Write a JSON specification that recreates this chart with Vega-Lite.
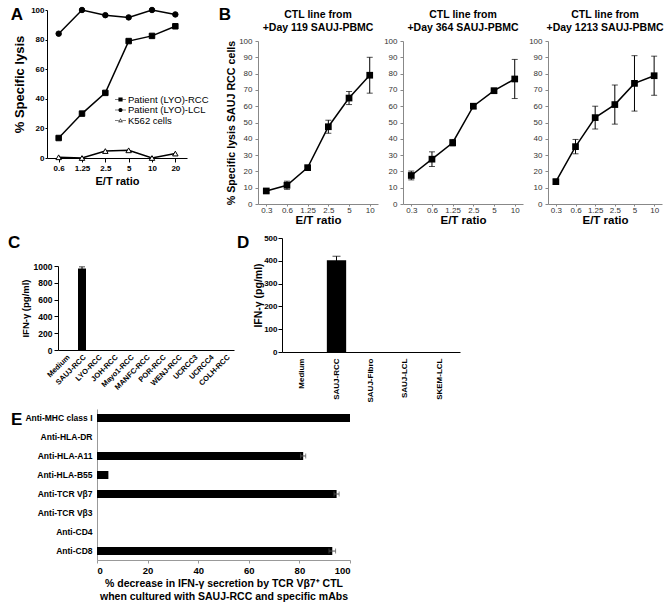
{
  "$schema": "https://vega.github.io/schema/vega-lite/v6.json",
  "padding": {"left": 0, "top": 4, "right": 2, "bottom": 2},
  "config": {
    "font": "Liberation Sans",
    "view": {"stroke": null},
    "axis": {"grid": false, "domainColor": "black", "tickColor": "black", "labelColor": "black", "titleColor": "black", "labelFontWeight": "bold", "titleFontWeight": "bold", "labelFont": "Liberation Sans", "titleFont": "Liberation Sans"},
    "title": {"font": "Liberation Sans", "fontWeight": "bold", "color": "black"},
    "legend": {"labelFont": "Liberation Sans"}
  },
  "datasets": {
    "a": [
      {"series": "Patient (LYO)-RCC", "et": "0.6", "v": 13.5},
      {"series": "Patient (LYO)-RCC", "et": "1.25", "v": 30},
      {"series": "Patient (LYO)-RCC", "et": "2.5", "v": 44},
      {"series": "Patient (LYO)-RCC", "et": "5", "v": 79},
      {"series": "Patient (LYO)-RCC", "et": "10", "v": 82.5},
      {"series": "Patient (LYO)-RCC", "et": "20", "v": 89},
      {"series": "Patient (LYO)-LCL", "et": "0.6", "v": 84},
      {"series": "Patient (LYO)-LCL", "et": "1.25", "v": 100},
      {"series": "Patient (LYO)-LCL", "et": "2.5", "v": 96.5},
      {"series": "Patient (LYO)-LCL", "et": "5", "v": 95},
      {"series": "Patient (LYO)-LCL", "et": "10", "v": 100},
      {"series": "Patient (LYO)-LCL", "et": "20", "v": 97},
      {"series": "K562 cells", "et": "0.6", "v": 0.5},
      {"series": "K562 cells", "et": "1.25", "v": 0},
      {"series": "K562 cells", "et": "2.5", "v": 4.7},
      {"series": "K562 cells", "et": "5", "v": 5.2},
      {"series": "K562 cells", "et": "10", "v": 0},
      {"series": "K562 cells", "et": "20", "v": 3}
    ],
    "b1": [
      {"et": "0.3", "v": 8, "e": 1.2},
      {"et": "0.6", "v": 11.5, "e": 2.5},
      {"et": "1.25", "v": 22.3, "e": 1},
      {"et": "2.5", "v": 47.4, "e": 4},
      {"et": "5", "v": 65, "e": 4},
      {"et": "10", "v": 79, "e": 11}
    ],
    "b2": [
      {"et": "0.3", "v": 17.5, "e": 2.7},
      {"et": "0.6", "v": 27.5, "e": 4.5},
      {"et": "1.25", "v": 37.6, "e": 2},
      {"et": "2.5", "v": 60, "e": 1.5},
      {"et": "5", "v": 69.5, "e": 1.5},
      {"et": "10", "v": 76.7, "e": 12}
    ],
    "b3": [
      {"et": "0.3", "v": 13.7, "e": 1.5},
      {"et": "0.6", "v": 35.2, "e": 4.4},
      {"et": "1.25", "v": 53, "e": 7},
      {"et": "2.5", "v": 61, "e": 12},
      {"et": "5", "v": 74, "e": 17},
      {"et": "10", "v": 78.7, "e": 12}
    ],
    "c": [
      {"cell": "Medium", "v": 0, "e": 0},
      {"cell": "SAUJ-RCC", "v": 970, "e": 20},
      {"cell": "LYO-RCC", "v": 0, "e": 0},
      {"cell": "JOH-RCC", "v": 0, "e": 0},
      {"cell": "Mayo1-RCC", "v": 0, "e": 0},
      {"cell": "MANFC-RCC", "v": 0, "e": 0},
      {"cell": "POR-RCC", "v": 0, "e": 0},
      {"cell": "WENJ-RCC", "v": 0, "e": 0},
      {"cell": "UCRCC3", "v": 0, "e": 0},
      {"cell": "UCRCC4", "v": 0, "e": 0},
      {"cell": "COLH-RCC", "v": 0, "e": 0}
    ],
    "d": [
      {"cell": "Medium", "v": 0, "e": 0},
      {"cell": "SAUJ-RCC", "v": 402, "e": 18},
      {"cell": "SAUJ-Fibro", "v": 0, "e": 0},
      {"cell": "SAUJ-LCL", "v": 0, "e": 0},
      {"cell": "SKEM-LCL", "v": 0, "e": 0}
    ],
    "e": [
      {"ab": "Anti-MHC class I", "v": 100, "e": 0},
      {"ab": "Anti-HLA-DR", "v": 0, "e": 0},
      {"ab": "Anti-HLA-A11", "v": 81.5, "e": 1},
      {"ab": "Anti-HLA-B55", "v": 4.5, "e": 0},
      {"ab": "Anti-TCR Vβ7", "v": 94.7, "e": 1},
      {"ab": "Anti-TCR Vβ3", "v": 0, "e": 0},
      {"ab": "Anti-CD4", "v": 0, "e": 0},
      {"ab": "Anti-CD8", "v": 93, "e": 1.3}
    ],
    "none": []
  },
  "columns": 1,
  "align": "none",
  "spacing": 7,
  "concat": [
    {
      "columns": 3,
      "align": "none",
      "spacing": {"row": 0, "column": 9},
      "concat": [
        {"width": 1, "height": 1, "data": {"name": "none"}, "mark": "point"},
        {"width": 1, "height": 1, "data": {"name": "none"}, "mark": "point"},
        {"width": 1, "height": 1, "data": {"name": "none"}, "mark": "point"},
        {"width": 1, "height": 1, "data": {"name": "none"}, "mark": "point"},
        {
          "width": 140, "height": 148,
          "title": {"text": "A", "anchor": "start", "frame": "bounds", "fontSize": 17, "dx": -3, "dy": 19, "offset": 0},
          "data": {"name": "a"},
          "encoding": {
            "x": {"field": "et", "type": "ordinal", "sort": ["0.6", "1.25", "2.5", "5", "10", "20"], "scale": {"type": "point", "padding": 0.5},
                  "axis": {"title": "E/T ratio", "labelAngle": 0, "labelFontSize": 8, "titleFontSize": 11, "titlePadding": 3, "tickSize": 4, "labelPadding": 2}},
            "y": {"field": "v", "type": "quantitative", "scale": {"domain": [0, 100]},
                  "axis": {"title": "% Specific lysis", "values": [0, 20, 40, 60, 80, 100], "labelFontSize": 8, "titleFontSize": 13, "titlePadding": 4, "tickSize": 2, "labelPadding": 1}}
          },
          "layer": [
            {"mark": {"type": "line", "color": "black", "strokeWidth": 1.5}, "encoding": {"detail": {"field": "series"}}},
            {"mark": {"type": "point", "stroke": "black", "strokeWidth": 1, "opacity": 1, "fillOpacity": 1, "size": 30},
             "encoding": {
               "shape": {"field": "series", "type": "nominal", "scale": {"domain": ["Patient (LYO)-RCC", "Patient (LYO)-LCL", "K562 cells"], "range": ["square", "circle", "triangle-up"]}, "legend": null},
               "fill": {"field": "series", "type": "nominal", "scale": {"domain": ["Patient (LYO)-RCC", "Patient (LYO)-LCL", "K562 cells"], "range": ["black", "black", "white"]}, "legend": null}
             }},
            {"transform": [{"filter": "false"}],
             "mark": {"type": "point", "filled": true, "color": "black", "strokeWidth": 0, "opacity": 1, "size": 121},
             "encoding": {
               "shape": {"field": "series", "type": "nominal", "title": "legend",
                         "scale": {"domain": ["Patient (LYO)-RCC", "Patient (LYO)-LCL", "K562 cells"],
                                   "range": ["M-1,-0.06H1V0.06H-1Z M-0.38,-0.38H0.38V0.38H-0.38Z", "M-1,-0.06H1V0.06H-1Z M0.38,0A0.38,0.38 0 1,1 -0.38,0A0.38,0.38 0 1,1 0.38,0Z", "M-1,-0.06H-0.3V0.06H-1Z M0.3,-0.06H1V0.06H0.3Z M0,-0.42L0.42,0.32H-0.42Z M0,-0.22L-0.24,0.2H0.24Z"]},
                         "legend": {"title": null, "orient": "none", "legendX": 68, "legendY": 84, "padding": 0, "labelFontSize": 9.5, "labelFontWeight": "normal", "labelColor": "black", "labelOffset": 2, "rowPadding": 0.5, "symbolSize": 121, "symbolFillColor": "black", "symbolStrokeWidth": 0}}
             }}
          ],
          "resolve": {"scale": {"shape": "independent"}}
        },
        {
          "title": {"text": "B", "anchor": "start", "frame": "bounds", "fontSize": 17, "dx": -7, "dy": 14, "offset": 0},
          "spacing": 5,
          "hconcat": [
            {
              "width": 120, "height": 163,
              "title": {"text": ["CTL line from", "+Day 119 SAUJ-PBMC"], "fontSize": 10.5, "anchor": "middle", "offset": 4, "lineHeight": 13},
              "data": {"name": "b1"},
              "encoding": {
                "x": {"field": "et", "type": "ordinal", "sort": ["0.3", "0.6", "1.25", "2.5", "5", "10"], "scale": {"type": "point", "padding": 0.4},
                      "axis": {"title": "E/T ratio", "labelAngle": 0, "labelFontSize": 8, "labelFontWeight": "normal", "labelColor": "#333", "domainColor": "#888", "tickColor": "#888", "tickSize": 2, "labelPadding": 0, "titleFontSize": 11.5, "titlePadding": 0}},
                "y": {"field": "v", "type": "quantitative", "scale": {"domain": [0, 100]},
                      "axis": {"title": "% Specific lysis SAUJ RCC cells", "values": [0, 10, 20, 30, 40, 50, 60, 70, 80, 90, 100], "labelFontSize": 8, "labelFontWeight": "normal", "labelColor": "#333", "domainColor": "#888", "tickColor": "#888", "tickSize": 3, "labelPadding": 3, "titleFontSize": 10.7, "titlePadding": 2}}
              },
              "layer": [
                {"mark": {"type": "errorbar", "color": "black", "ticks": {"size": 6}}, "encoding": {"yError": {"field": "e"}}},
                {"mark": {"type": "line", "color": "black", "strokeWidth": 1.5}},
                {"mark": {"type": "point", "shape": "square", "filled": true, "color": "black", "opacity": 1, "size": 45}}
              ]
            },
            {
              "width": 120, "height": 163,
              "title": {"text": ["CTL line from", "+Day 364 SAUJ-PBMC"], "fontSize": 10.5, "anchor": "middle", "offset": 4, "lineHeight": 13},
              "data": {"name": "b2"},
              "encoding": {
                "x": {"field": "et", "type": "ordinal", "sort": ["0.3", "0.6", "1.25", "2.5", "5", "10"], "scale": {"type": "point", "padding": 0.4},
                      "axis": {"title": "E/T ratio", "labelAngle": 0, "labelFontSize": 8, "labelFontWeight": "normal", "labelColor": "#333", "domainColor": "#888", "tickColor": "#888", "tickSize": 2, "labelPadding": 0, "titleFontSize": 11.5, "titlePadding": 0}},
                "y": {"field": "v", "type": "quantitative", "scale": {"domain": [0, 100]},
                      "axis": {"title": null, "values": [0, 10, 20, 30, 40, 50, 60, 70, 80, 90, 100], "labelFontSize": 8, "labelFontWeight": "normal", "labelColor": "#333", "domainColor": "#888", "tickColor": "#888", "tickSize": 3, "labelPadding": 3}}
              },
              "layer": [
                {"mark": {"type": "errorbar", "color": "black", "ticks": {"size": 6}}, "encoding": {"yError": {"field": "e"}}},
                {"mark": {"type": "line", "color": "black", "strokeWidth": 1.5}},
                {"mark": {"type": "point", "shape": "square", "filled": true, "color": "black", "opacity": 1, "size": 45}}
              ]
            },
            {
              "width": 114, "height": 163,
              "title": {"text": ["CTL line from", "+Day 1213 SAUJ-PBMC"], "fontSize": 10.5, "anchor": "middle", "offset": 4, "lineHeight": 13},
              "data": {"name": "b3"},
              "encoding": {
                "x": {"field": "et", "type": "ordinal", "sort": ["0.3", "0.6", "1.25", "2.5", "5", "10"], "scale": {"type": "point", "padding": 0.4},
                      "axis": {"title": "E/T ratio", "labelAngle": 0, "labelFontSize": 8, "labelFontWeight": "normal", "labelColor": "#333", "domainColor": "#888", "tickColor": "#888", "tickSize": 2, "labelPadding": 0, "titleFontSize": 11.5, "titlePadding": 0}},
                "y": {"field": "v", "type": "quantitative", "scale": {"domain": [0, 100]},
                      "axis": {"title": null, "values": [0, 10, 20, 30, 40, 50, 60, 70, 80, 90, 100], "labelFontSize": 8, "labelFontWeight": "normal", "labelColor": "#333", "domainColor": "#888", "tickColor": "#888", "tickSize": 3, "labelPadding": 3}}
              },
              "layer": [
                {"mark": {"type": "errorbar", "color": "black", "ticks": {"size": 6}}, "encoding": {"yError": {"field": "e"}}},
                {"mark": {"type": "line", "color": "black", "strokeWidth": 1.5}},
                {"mark": {"type": "point", "shape": "square", "filled": true, "color": "black", "opacity": 1, "size": 45}}
              ]
            }
          ]
        }
      ]
    },
    {
      "columns": 1,
      "align": "none",
      "spacing": 6,
      "concat": [
        {
          "columns": 4,
          "align": "none",
          "spacing": {"row": 0, "column": 3},
          "concat": [
            {"width": 1, "height": 1, "data": {"name": "none"}, "mark": "point"},
            {"width": 1, "height": 1, "data": {"name": "none"}, "mark": "point"},
            {"width": 1, "height": 1, "data": {"name": "none"}, "mark": "point"},
            {"width": 1, "height": 1, "data": {"name": "none"}, "mark": "point"},
            {"width": 5, "height": 1, "data": {"name": "none"}, "mark": "point"},
            {
              "width": 176, "height": 84,
              "title": {"text": "C", "anchor": "start", "frame": "bounds", "fontSize": 17, "dx": -12, "offset": 10},
              "data": {"name": "c"},
              "encoding": {
                "x": {"field": "cell", "type": "nominal", "sort": ["Medium", "SAUJ-RCC", "LYO-RCC", "JOH-RCC", "Mayo1-RCC", "MANFC-RCC", "POR-RCC", "WENJ-RCC", "UCRCC3", "UCRCC4", "COLH-RCC"],
                      "scale": {"paddingInner": 0.5, "paddingOuter": 0.25},
                      "axis": {"title": null, "labelAngle": -45, "labelFontSize": 7.5, "ticks": false, "labelPadding": 3}},
                "y": {"field": "v", "type": "quantitative", "scale": {"domain": [0, 1000]},
                      "axis": {"title": "IFN-γ (pg/ml)", "format": "d", "values": [0, 200, 400, 600, 800, 1000], "labelFontSize": 8.5, "titleFontSize": 9.5, "titlePadding": 3, "tickSize": 4}}
              },
              "layer": [
                {"mark": {"type": "bar", "color": "black"}},
                {"transform": [{"filter": "datum.e > 0"}], "mark": {"type": "errorbar", "color": "black", "ticks": {"size": 6}}, "encoding": {"yError": {"field": "e"}}}
              ]
            },
            {
              "width": 1, "height": 1,
              "title": {"text": "D", "anchor": "start", "fontSize": 17, "dx": 0, "offset": 0},
              "data": {"name": "none"}, "mark": "point"
            },
            {
              "width": 178, "height": 114,
              "data": {"name": "d"},
              "encoding": {
                "x": {"field": "cell", "type": "nominal", "sort": ["Medium", "SAUJ-RCC", "SAUJ-Fibro", "SAUJ-LCL", "SKEM-LCL"],
                      "scale": {"paddingInner": 0.44, "paddingOuter": 0.3},
                      "axis": {"title": null, "labelAngle": -90, "labelFontSize": 8, "ticks": false, "labelPadding": 6}},
                "y": {"field": "v", "type": "quantitative", "scale": {"domain": [0, 500]},
                      "axis": {"title": "IFN-γ (pg/ml)", "values": [0, 100, 200, 300, 400, 500], "labelFontSize": 8, "titleFontSize": 10.5, "titlePadding": 0, "tickSize": 4, "labelPadding": 1}}
              },
              "layer": [
                {"mark": {"type": "bar", "color": "black"}},
                {"transform": [{"filter": "datum.e > 0"}], "mark": {"type": "errorbar", "color": "black", "ticks": {"size": 8}}, "encoding": {"yError": {"field": "e"}}}
              ]
            }
          ]
        },
        {
          "columns": 2,
          "align": "none",
          "spacing": {"row": 0, "column": 9},
          "concat": [
            {"width": 1, "height": 1, "data": {"name": "none"}, "mark": "point"},
            {"width": 1, "height": 1, "data": {"name": "none"}, "mark": "point"},
            {"width": 1, "height": 1, "data": {"name": "none"}, "mark": "point"},
            {
              "width": 253, "height": 151,
              "title": {"text": "E", "anchor": "start", "frame": "bounds", "fontSize": 17, "dx": -14, "dy": 20, "offset": 0},
              "data": {"name": "e"},
              "encoding": {
                "y": {"field": "ab", "type": "nominal", "sort": ["Anti-MHC class I", "Anti-HLA-DR", "Anti-HLA-A11", "Anti-HLA-B55", "Anti-TCR Vβ7", "Anti-TCR Vβ3", "Anti-CD4", "Anti-CD8"],
                      "scale": {"paddingInner": 0.58, "paddingOuter": 0.26},
                      "axis": {"title": null, "labelFontSize": 8.5, "ticks": false, "labelPadding": 5, "domainColor": "#999"}},
                "x": {"field": "v", "type": "quantitative", "scale": {"domain": [0, 100]},
                      "axis": {"title": ["% decrease in IFN-γ secretion by TCR Vβ7⁺ CTL", "when cultured with SAUJ-RCC and specific mAbs"], "values": [0, 20, 40, 60, 80, 100], "labelFontSize": 9.5, "titleFontSize": 10.5, "titlePadding": 4, "tickSize": 3, "domainColor": "#999", "tickColor": "#999"}}
              },
              "layer": [
                {"mark": {"type": "bar", "color": "black"}},
                {"transform": [{"filter": "datum.e > 0"}], "mark": {"type": "errorbar", "color": "#555", "ticks": {"size": 5}}, "encoding": {"xError": {"field": "e"}}}
              ]
            }
          ]
        }
      ]
    }
  ]
}
